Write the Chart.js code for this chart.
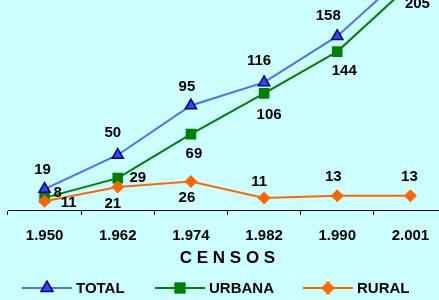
<!DOCTYPE html>
<html>
<head>
<meta charset="utf-8">
<script src="https://cdn.jsdelivr.net/npm/chart.js@4.4.1/dist/chart.umd.min.js"></script>
<style>
  html, body { margin: 0; padding: 0; background: #CCFFFF; overflow: hidden; width: 439px; height: 300px; }
  #wrap { position: absolute; left: 0; top: -60px; width: 460px; height: 360px; }
</style>
</head>
<body>
<div id="wrap"><canvas id="censos" width="460" height="360"></canvas></div>
<script>
const censos = ['1.950', '1.962', '1.974', '1.982', '1.990', '2.001'];
const total = [19, 50, 95, 116, 158, 218];
const urbana = [11, 29, 69, 106, 144, 205];
const rural = [8, 21, 26, 11, 13, 13];

const FONT = '"Liberation Sans", Arial, sans-serif';

// where each value label sits relative to its marker
const labelOffsets = {
  TOTAL: [[-2, -19], [-5, -22], [-4, -19], [-5, -22], [-9, -20], [-6, -20]],
  URBANA: [[24, 5], [20, 0], [3, 20], [5, 21], [7, 19], [7, 19]],
  RURAL: [[13, -8], [-5, 17], [-4, 16], [-5, -16], [-4, -19], [-1, -19]]
};

const valueLabels = {
  id: 'valueLabels',
  afterDatasetsDraw(chart) {
    const ctx = chart.ctx;
    ctx.save();
    ctx.font = 'bold 15px ' + FONT;
    ctx.fillStyle = '#000';
    ctx.textAlign = 'center';
    ctx.textBaseline = 'middle';
    chart.data.datasets.forEach((ds, i) => {
      const meta = chart.getDatasetMeta(i);
      meta.data.forEach((pt, j) => {
        const off = labelOffsets[ds.label][j];
        ctx.fillText(ds.data[j], pt.x + off[0], pt.y + off[1]);
      });
    });
    ctx.restore();
  }
};

function drawMarker(ctx, style, r, x, y) {
  if (style === 'triangle') {
    const w = r * Math.sqrt(3) / 2;
    ctx.moveTo(x, y - r);
    ctx.lineTo(x + w, y + r / 2);
    ctx.lineTo(x - w, y + r / 2);
    ctx.closePath();
  } else if (style === 'rect') {
    const s = r * Math.SQRT1_2;
    ctx.rect(x - s, y - s, 2 * s, 2 * s);
  } else {
    ctx.moveTo(x, y - r);
    ctx.lineTo(x + r, y);
    ctx.lineTo(x, y + r);
    ctx.lineTo(x - r, y);
    ctx.closePath();
  }
}

const lineLegend = {
  id: 'lineLegend',
  afterDraw(chart) {
    const ctx = chart.ctx;
    const y = 348;
    const starts = [22, 155, 303];
    ctx.save();
    chart.data.datasets.forEach((ds, i) => {
      const x0 = starts[i];
      ctx.strokeStyle = ds.borderColor;
      ctx.lineWidth = ds.borderWidth;
      ctx.beginPath();
      ctx.moveTo(x0, y);
      ctx.lineTo(x0 + 50, y);
      ctx.stroke();
      ctx.fillStyle = ds.pointBackgroundColor;
      ctx.strokeStyle = ds.pointBorderColor;
      ctx.lineWidth = ds.pointBorderWidth;
      ctx.beginPath();
      drawMarker(ctx, ds.pointStyle, ds.pointRadius + 0.5, x0 + 25, y);
      ctx.fill();
      if (ds.pointBorderWidth) ctx.stroke();
      ctx.fillStyle = '#000';
      ctx.font = 'bold 15px ' + FONT;
      ctx.textAlign = 'left';
      ctx.textBaseline = 'middle';
      ctx.fillText(ds.label, x0 + 54, y + 1);
    });
    ctx.restore();
  }
};

new Chart(document.getElementById('censos'), {
  type: 'line',
  data: {
    labels: censos,
    datasets: [{
      label: 'TOTAL',
      data: total,
      borderColor: '#4D6EFF',
      borderWidth: 2,
      pointStyle: 'triangle',
      pointRadius: 6.5,
      pointBackgroundColor: '#2E4BEA',
      pointBorderColor: '#000080',
      pointBorderWidth: 1.5,
      order: 2
    }, {
      label: 'URBANA',
      data: urbana,
      borderColor: '#008000',
      borderWidth: 2,
      pointStyle: 'rect',
      pointRadius: 7.5,
      pointBackgroundColor: '#008000',
      pointBorderColor: '#008000',
      pointBorderWidth: 0,
      order: 3
    }, {
      label: 'RURAL',
      data: rural,
      borderColor: '#FF6600',
      borderWidth: 2,
      pointStyle: 'rectRot',
      pointRadius: 6.5,
      pointBackgroundColor: '#FF6600',
      pointBorderColor: '#FF6600',
      pointBorderWidth: 0,
      order: 1
    }]
  },
  options: {
    responsive: false,
    animation: false,
    layout: { padding: { left: 7, right: 13, top: 28, bottom: 30 } },
    plugins: { legend: { display: false }, tooltip: { enabled: false } },
    scales: {
      y: { display: false, min: 0, max: 220 },
      x: {
        offset: true,
        afterFit(scale) { scale.height = 60; },
        border: { display: true, color: '#000', width: 1 },
        grid: { offset: true, drawOnChartArea: false, drawTicks: true, tickLength: 5, color: '#000' },
        ticks: { color: '#000', padding: 12, font: { family: FONT, size: 15, weight: 'bold' } },
        title: {
          display: true,
          text: 'C E N S O S',
          color: '#000',
          padding: { top: 0, bottom: 1 },
          font: { family: FONT, size: 17, weight: 'bold' }
        }
      }
    }
  },
  plugins: [valueLabels, lineLegend]
});
</script>
</body>
</html>
